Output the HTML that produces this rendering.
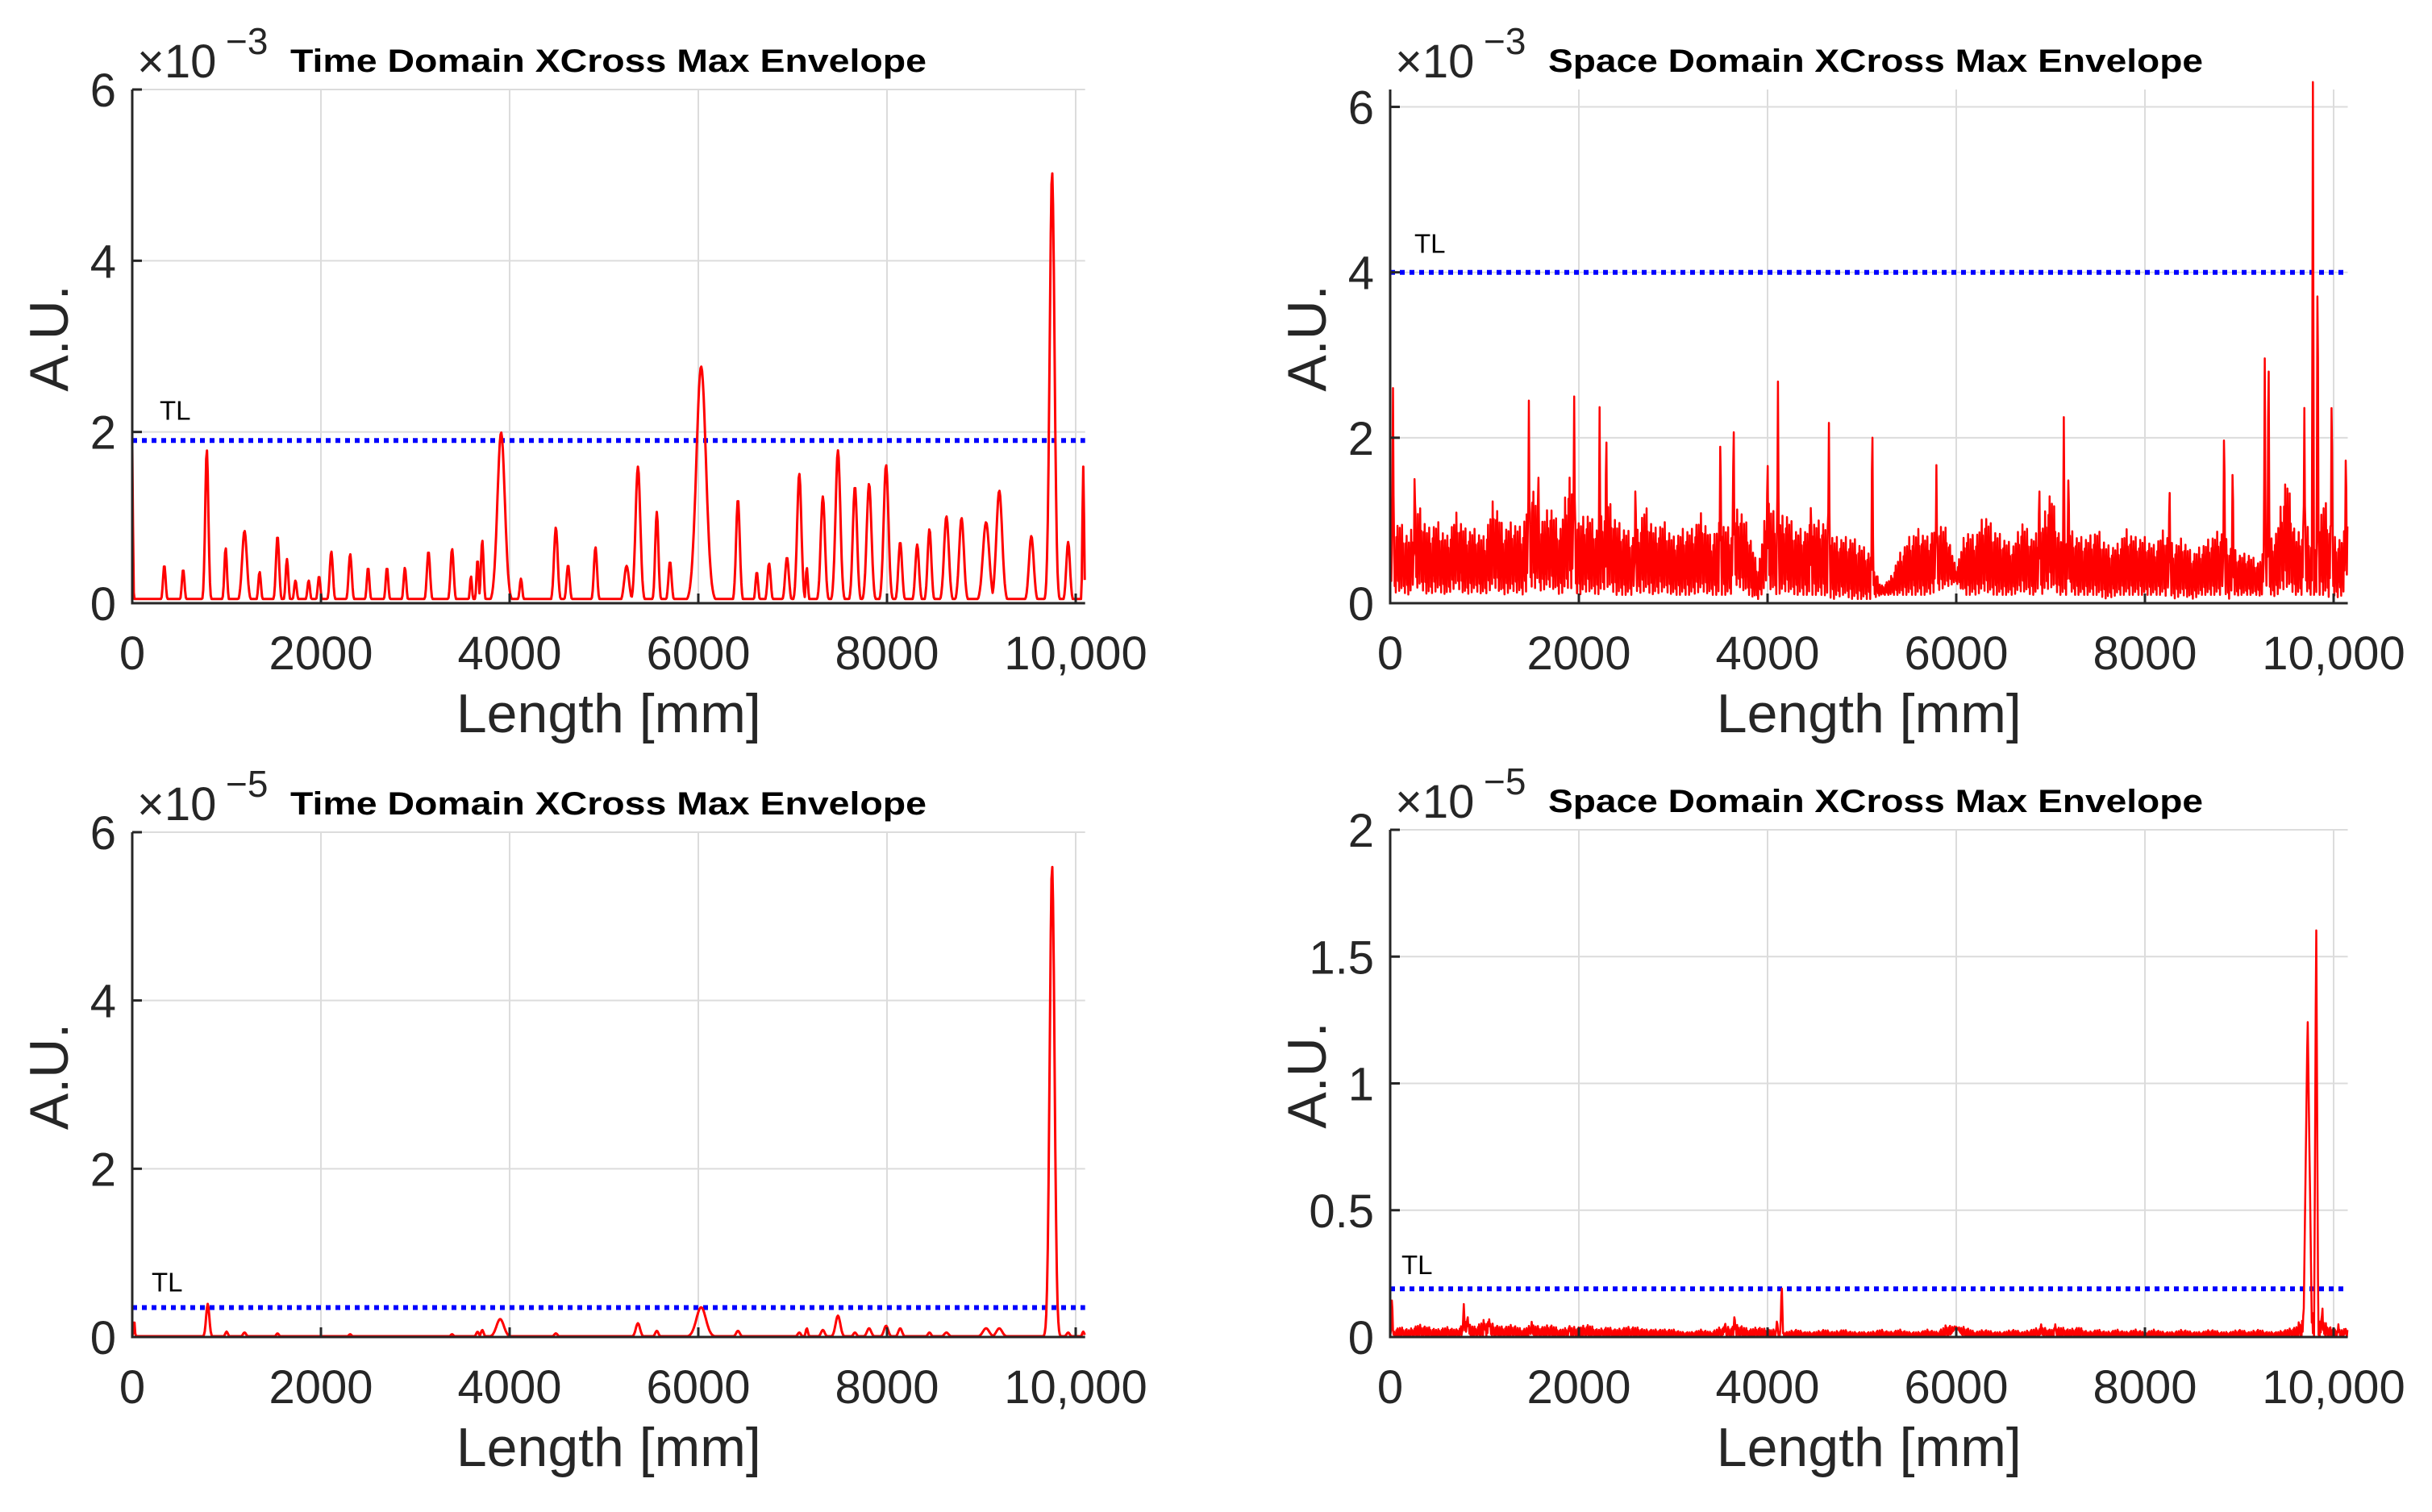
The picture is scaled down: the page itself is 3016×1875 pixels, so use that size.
<!DOCTYPE html>
<html><head><meta charset="utf-8"><style>
html,body{margin:0;padding:0;background:#fff;}
svg{display:block;font-family:"Liberation Sans",Arial,sans-serif;}
</style></head>
<body>
<svg id="fig" width="3016" height="1875" viewBox="0 0 3016 1875" xmlns="http://www.w3.org/2000/svg">
<rect width="3016" height="1875" fill="#fff"/>
</svg>
<script>
// ---- Data (x in mm) ----
// Top-left: time domain peaks (values x1e-3)
const tlPeakX = [0,340,540,790,990,1190,1350,1540,1640,1730,1870,1980,2110,2310,2500,2700,2890,3140,3390,3590,3660,3710,3910,4120,4490,4620,4910,5240,5360,5560,5700,6030,6420,6620,6750,6940,7070,7150,7320,7480,7660,7810,7990,8140,8320,8450,8630,8790,9050,9190,9530,9750,9920,10080];
const tlPeakY = [1.82,0.43,0.38,1.78,0.63,0.83,0.35,0.77,0.5,0.25,0.25,0.3,0.59,0.56,0.4,0.4,0.4,0.59,0.62,0.3,0.5,0.72,1.98,0.27,0.87,0.43,0.64,0.42,1.58,1.05,0.47,2.75,1.2,0.35,0.45,0.52,1.5,0.4,1.23,1.77,1.35,1.38,1.6,0.7,0.67,0.85,1.0,0.98,0.93,1.3,0.77,5.02,0.7,1.58];
const tlPeakW = [12,25,25,30,25,45,25,30,25,25,25,25,30,30,25,25,25,30,30,20,20,25,70,25,35,30,30,45,45,30,30,90,35,25,30,35,40,20,40,45,40,45,45,35,35,35,45,45,60,55,45,45,35,15];
const tlThreshold = 1.9;

// Bottom-left: time domain peaks (values x1e-5)
const blPeakX = [20,800,1000,1190,1540,2310,3390,3660,3710,3900,4490,5360,5560,6030,6420,7070,7150,7320,7480,7660,7810,7990,8140,8450,8630,9050,9190,9750,9920,10080];
const blPeakY = [0.2,0.39,0.06,0.05,0.04,0.03,0.03,0.06,0.08,0.21,0.04,0.16,0.07,0.35,0.07,0.05,0.1,0.08,0.25,0.05,0.1,0.13,0.1,0.05,0.05,0.1,0.1,5.6,0.05,0.06];
const blPeakW = [12,30,25,30,25,25,25,25,25,70,30,40,30,90,35,30,20,35,45,30,40,40,35,30,40,60,55,45,30,20];
const blThreshold = 0.35;

// Top-right: space domain noise band every 100 mm (x1e-3): upper and lower envelopes
const trHigh = [0.9,1.0,0.8,1.2,0.9,1.0,0.8,1.1,0.9,0.9,0.8,
 1.3,0.9,1.0,0.9,1.5,1.0,1.2,0.9,1.6,1.0,
 1.1,0.9,1.3,1.0,0.9,0.8,1.2,0.9,1.0,0.8,
 0.9,0.9,1.1,0.8,1.0,0.9,1.2,0.9,0.4,1.3,
 1.0,1.1,0.9,0.9,1.0,1.0,0.8,0.8,0.8,0.7,
 0.6,0.2,0.3,0.6,0.8,0.9,0.8,1.0,0.9,0.4,
 0.9,0.8,1.1,0.9,0.8,0.7,1.0,0.8,0.9,1.4,
 0.8,0.9,0.8,0.8,0.9,0.7,0.7,0.9,0.8,0.8,
 0.7,0.9,0.7,0.8,0.6,0.7,0.8,0.9,0.7,0.6,
 0.6,0.5,0.7,0.9,1.6,0.8,1.0,0.7,1.3,0.8,
 0.8,1.5];
const trLow = [0.1,0.15,0.1,0.2,0.1,0.15,0.1,0.2,0.1,0.15,0.1,
 0.2,0.1,0.15,0.1,0.2,0.15,0.2,0.1,0.2,0.1,
 0.15,0.1,0.2,0.1,0.1,0.1,0.15,0.1,0.15,0.1,
 0.1,0.1,0.15,0.1,0.1,0.1,0.2,0.1,0.05,0.2,
 0.1,0.15,0.1,0.1,0.1,0.1,0.05,0.1,0.05,0.05,
 0.05,0.1,0.1,0.1,0.1,0.1,0.1,0.15,0.2,0.25,
 0.1,0.1,0.15,0.1,0.1,0.1,0.15,0.1,0.1,0.2,
 0.1,0.1,0.1,0.1,0.1,0.05,0.1,0.1,0.1,0.1,
 0.1,0.1,0.05,0.1,0.05,0.1,0.1,0.1,0.05,0.1,
 0.1,0.1,0.05,0.1,0.2,0.1,0.1,0.1,0.1,0.05,
 0.1,0.2];
const trSpikeX = [30,260,1470,1570,1950,2220,2290,2600,3500,3640,4000,4110,4460,4650,5110,5790,6880,7140,7190,8260,8840,8930,9270,9310,9690,9780,9830,9980,10130];
const trSpikeY = [2.6,1.8,2.45,1.82,2.5,2.37,2.33,1.62,2.27,2.48,1.99,2.68,1.38,2.18,2.4,1.67,1.62,2.25,1.78,1.6,2.36,1.86,2.96,3.36,2.36,6.3,4.45,2.83,2.07];
const trThreshold = 4.0;

// Bottom-right: space domain noise band every 100 mm (x1e-5)
const brHigh = [0.02,0.04,0.03,0.05,0.04,0.03,0.04,0.03,0.06,0.04,0.07,
 0.05,0.04,0.05,0.03,0.05,0.04,0.05,0.03,0.04,0.04,
 0.05,0.03,0.04,0.03,0.04,0.04,0.03,0.03,0.03,0.03,
 0.02,0.02,0.03,0.02,0.04,0.04,0.05,0.03,0.04,0.03,
 0.03,0.02,0.03,0.02,0.02,0.03,0.02,0.03,0.02,0.02,
 0.02,0.03,0.02,0.03,0.02,0.02,0.03,0.02,0.05,0.04,
 0.04,0.02,0.03,0.02,0.02,0.03,0.02,0.03,0.04,0.03,
 0.04,0.03,0.04,0.02,0.03,0.02,0.03,0.02,0.03,0.02,
 0.03,0.02,0.02,0.03,0.02,0.02,0.03,0.02,0.02,0.03,
 0.02,0.03,0.02,0.02,0.03,0.04,0.1,0.1,0.06,0.03,
 0.03,0.04];
const brSpikeX = [20,780,820,1000,1050,1500,1900,3550,3650,4100,4150,6000,6900,7050,9725,9815,9880,10050,10130];
const brSpikeY = [0.18,0.13,0.09,0.06,0.07,0.06,0.05,0.06,0.09,0.07,0.22,0.04,0.05,0.05,1.27,1.68,0.14,0.05,0.04];
const brSpikeW = [10,15,15,15,15,15,15,15,15,15,15,80,15,15,45,22,10,10,10];
const brThreshold = 0.19;

const xTicks = [0,2000,4000,6000,8000,10000];
const xTickLabels = ["0","2000","4000","6000","8000","10,000"];
const ticksA = [0,2,4,6];
const ticksB = [0,0.5,1,1.5,2];
const ticksBLabels = ["0","0.5","1","1.5","2"];

// ---- Rendering ----
const NS = "http://www.w3.org/2000/svg";
const svg = document.getElementById('fig');
function el(tag, attrs, parent){
  const e = document.createElementNS(NS, tag);
  for (const k in attrs) e.setAttribute(k, attrs[k]);
  (parent||svg).appendChild(e);
  return e;
}
const STEP = 2000/234; // mm per px

function gaussPeaks(px, py, pw, base, xmax){
  const pts=[];
  for(let x=0;x<=xmax;x+=8){
    let y=base;
    for(let i=0;i<px.length;i++){
      const d=(x-px[i])/pw[i];
      if(Math.abs(d)<4){ y=Math.max(y, py[i]*Math.exp(-d*d*1.6)+base*0.3); }
    }
    pts.push([x,y]);
  }
  return pts;
}
// fixed cyclic pattern to render a noise band between low and high envelopes
const bandPattern = [0,0.9,0.2,0.6,0.05,1,0.35,0.75,0.1,0.5,0.0,0.8,0.25,0.95,0.15,0.45];
function bandSpikes(high, low, sx, sy, sw, defW, xmax){
  const pts=[];
  let n=0;
  for(let x=0;x<=xmax;x+=6){
    const f=x/100, i=Math.floor(f), t=f-i;
    const L=high.length-1;
    const h=high[Math.min(i,L)]+(high[Math.min(i+1,L)]-high[Math.min(i,L)])*t;
    const l=low ? low[Math.min(i,L)]+(low[Math.min(i+1,L)]-low[Math.min(i,L)])*t : 0;
    let y=l+(h-l)*bandPattern[n++ % bandPattern.length];
    for(let k=0;k<sx.length;k++){
      const w = sw ? sw[k] : defW;
      const d=Math.abs(x-sx[k]);
      if(d<w) y=Math.max(y, sy[k]*(1-d/w));
    }
    pts.push([x,y]);
  }
  return pts;
}

function panel(cfg){
  const g = el('g',{});
  
  
  const sx = v => cfg.x0 + v/STEP;
  const x1 = sx(cfg.xmax);
  const sy = v => cfg.y0 - (v/cfg.ymax)*(cfg.y0-cfg.y1);
  const grid = el('g',{stroke:'#dcdcdc','stroke-width':2},g);
  
  
  xTicks.forEach(t=>{ if(t>0) el('line',{x1:sx(t),x2:sx(t),y1:cfg.y1,y2:cfg.y0},grid); });
  cfg.yticks.forEach(t=>{ if(t>0) el('line',{x1:cfg.x0,x2:x1,y1:sy(t),y2:sy(t)},grid); });
  const th = el('line',{x1:cfg.x0,x2:x1,y1:sy(cfg.th),y2:sy(cfg.th),stroke:'#0000ff','stroke-width':6,'stroke-dasharray':'6 6'},g);
  
  
  const d = cfg.pts.map((p,i)=>(i?'L':'M')+sx(p[0]).toFixed(1)+','+sy(p[1]).toFixed(1)).join('');
  const line = el('path',{d:d,fill:'none',stroke:'#ff0000','stroke-width':cfg.lw,'stroke-linejoin':'round'},g);
  
  
  const ax = el('g',{stroke:'#262626','stroke-width':3},g);
  
  
  el('line',{x1:cfg.x0,x2:cfg.x0,y1:cfg.y1,y2:cfg.y0+1.5},ax);
  el('line',{x1:cfg.x0-1.5,x2:x1,y1:cfg.y0,y2:cfg.y0},ax);
  xTicks.forEach(t=>el('line',{x1:sx(t),x2:sx(t),y1:cfg.y0,y2:cfg.y0-12},ax));
  cfg.yticks.forEach(t=>el('line',{x1:cfg.x0,x2:cfg.x0+12,y1:sy(t),y2:sy(t)},ax));
  xTicks.forEach((t,i)=>{
    const tx = el('text',{x:sx(t),y:cfg.y0+82,'font-size':58,fill:'#262626','text-anchor':'middle'},g);
    tx.textContent = xTickLabels[i];
    
    
  });
  cfg.yticks.forEach((t,i)=>{
    const ty = el('text',{x:cfg.x0-20,y:sy(t)+21,'font-size':58,fill:'#262626','text-anchor':'end'},g);
    ty.textContent = cfg.ylabels[i];
    
    
  });
  const xt = el('text',{x:(cfg.x0+x1)/2,y:cfg.y0+160,'font-size':68,fill:'#262626','text-anchor':'middle'},g);
  xt.textContent = 'Length [mm]';
  
  
  const yt = el('text',{x:0,y:0,'font-size':68,fill:'#262626','text-anchor':'middle',transform:`translate(${cfg.x0-80},${(cfg.y0+cfg.y1)/2-10}) rotate(-90)`},g);
  yt.textContent = 'A.U.';
  
  
  const ex = el('text',{x:cfg.x0+6,y:cfg.y1-15,'font-size':58,fill:'#262626'},g);
  ex.textContent = '×10';
  
  
  const es = el('text',{x:cfg.x0+116,y:cfg.y1-44,'font-size':46,fill:'#262626'},g);
  es.textContent = cfg.exp;
  
  
  const tt = el('text',{x:cfg.x0+196,y:cfg.y1-22,'font-size':40,'font-weight':'bold',fill:'#000',textLength:cfg.tw,lengthAdjust:'spacingAndGlyphs'},g);
  tt.textContent = cfg.title;
  
  
  const tl = el('text',{x:cfg.x0+cfg.tlx,y:sy(cfg.th)-cfg.tly,'font-size':33,fill:'#000'},g);
  tl.textContent = 'TL';
  
  
}

panel({name:'time-domain-panel-top',x0:164,xmax:10100,y0:748,y1:111,ymax:6,yticks:ticksA,ylabels:["0","2","4","6"],exp:'−3',
  th:tlThreshold,pts:gaussPeaks(tlPeakX,tlPeakY,tlPeakW,0.05,10100),lw:3,title:'Time Domain XCross Max Envelope',tw:789,tlx:34,tly:26});
panel({name:'space-domain-panel-top',x0:1724,xmax:10150,y0:748,y1:111,ymax:6.21,yticks:ticksA,ylabels:["0","2","4","6"],exp:'−3',
  th:trThreshold,pts:bandSpikes(trHigh,trLow,trSpikeX,trSpikeY,null,12,10150),lw:2.5,title:'Space Domain XCross Max Envelope',tw:812,tlx:30,tly:24});
panel({name:'time-domain-panel-bottom',x0:164,xmax:10100,y0:1658,y1:1032,ymax:6,yticks:ticksA,ylabels:["0","2","4","6"],exp:'−5',
  th:blThreshold,pts:gaussPeaks(blPeakX,blPeakY,blPeakW,0.01,10100),lw:3,title:'Time Domain XCross Max Envelope',tw:789,tlx:24,tly:20});
panel({name:'space-domain-panel-bottom',x0:1724,xmax:10150,y0:1658,y1:1029,ymax:2,yticks:ticksB,ylabels:ticksBLabels,exp:'−5',
  th:brThreshold,pts:bandSpikes(brHigh,null,brSpikeX,brSpikeY,brSpikeW,15,10150),lw:2.5,title:'Space Domain XCross Max Envelope',tw:812,tlx:14,tly:18});
</script>
</body></html>
